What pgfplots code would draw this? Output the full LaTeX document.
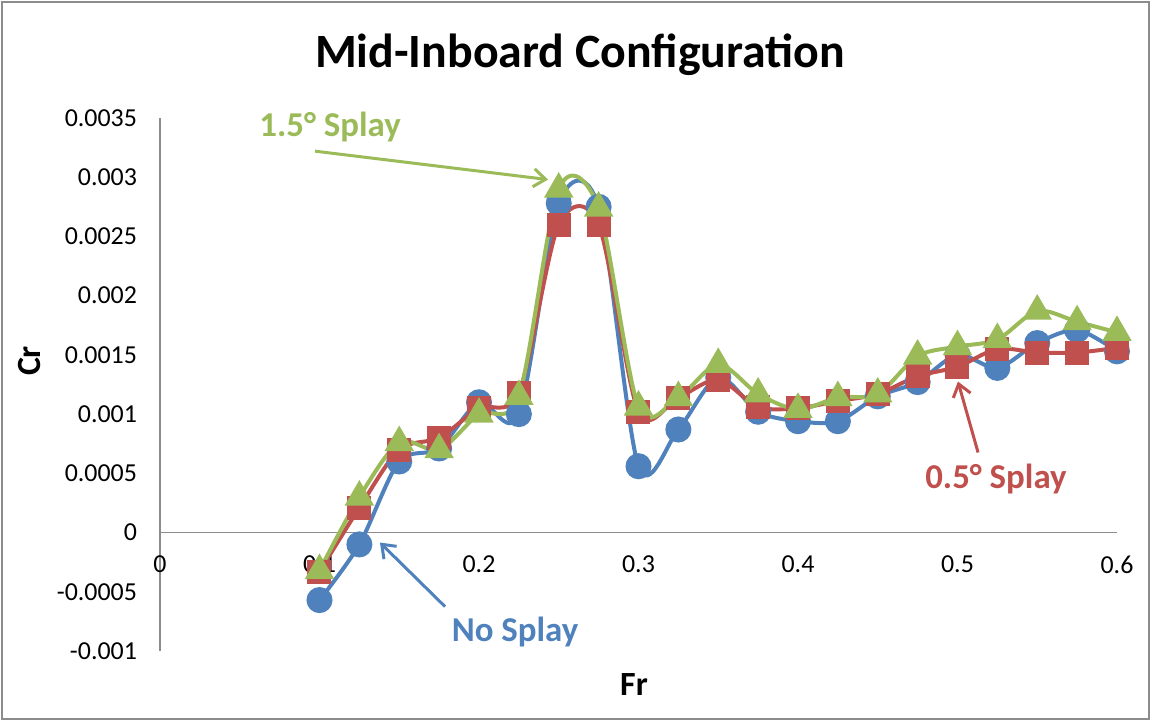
\documentclass[border=0pt]{standalone}
\usepackage{fontspec}
\setmainfont{Carlito}
\usepackage{pgfplots}
\usepackage{pgfplotstable}
\pgfplotsset{compat=1.18}
\usetikzlibrary{arrows.meta}
\definecolor{cblue}{HTML}{4F81BD}
\definecolor{cred}{HTML}{C0504D}
\definecolor{cgreen}{HTML}{9BBB59}
\definecolor{frame}{HTML}{8C8C8C}

\pgfplotstableread{
x blue red green
0.1 -0.00057 -0.00033 -0.00032
0.125 -0.0001 0.00021 0.0003
0.15 0.00060 0.0007 0.00076
0.175 0.00071 0.0008 0.0007
0.2 0.00110 0.00105 0.001
0.225 0.00100 0.00118 0.00115
0.25 0.00278 0.0026 0.0029
0.275 0.00275 0.0026 0.00274
0.3 0.00056 0.00102 0.00106
0.325 0.00087 0.00114 0.00114
0.35 0.00131 0.00129 0.00142
0.375 0.00102 0.00106 0.00117
0.4 0.00094 0.00105 0.00104
0.425 0.00094 0.00111 0.00114
0.45 0.00115 0.00117 0.00117
0.475 0.00127 0.00132 0.00149
0.5 0.0015 0.0014 0.00157
0.525 0.00139 0.00155 0.00163
0.55 0.0016 0.00152 0.00187
0.575 0.00171 0.00152 0.00178
0.6 0.00153 0.00156 0.00169
}\data

\begin{document}
\begin{tikzpicture}
\path[use as bounding box] (0,0) rectangle (575.5bp,360.5bp);
\draw[frame, line width=1.2bp] (1bp,1bp) rectangle (574.5bp,359.5bp);
\node[font=\bfseries\fontsize{24}{28}\selectfont] at (290bp,333bp) {Mid-Inboard Configuration};
\node[font=\bfseries\fontsize{17}{20}\selectfont] at (317bp,18bp) {Fr};
\node[font=\bfseries\fontsize{17}{20}\selectfont, rotate=90] at (15bp,180bp) {Cr};
\begin{axis}[
  at={(80bp,35bp)}, anchor=south west,
  scale only axis, width=478.5bp, height=266.5bp,
  xmin=0, xmax=0.6, ymin=-0.001, ymax=0.0035,
  enlargelimits=false,
  axis x line=middle, axis y line=left,
  axis line style={-, draw=frame, line width=0.6bp},
  hide obscured x ticks=false, hide obscured y ticks=false,
  major tick length=0pt,
  xtick={0,0.1,0.2,0.3,0.4,0.5,0.6},
  ytick={-0.001,-0.0005,0,0.0005,0.001,0.0015,0.002,0.0025,0.003,0.0035},
  scaled x ticks=false, scaled y ticks=false,
  /pgf/number format/assume math mode=true,
  x tick label style={/pgf/number format/.cd, fixed, precision=1, /tikz/.cd, font=\fontsize{13}{15}\selectfont, yshift=-8bp},
  y tick label style={/pgf/number format/.cd, fixed, precision=4, /tikz/.cd, font=\fontsize{13}{15}\selectfont, xshift=-8bp},
  clip=false,
]
\addplot[cblue, line width=2bp, smooth, mark=*, mark size=5.5bp, mark options={solid, fill=cblue, draw=cblue}] table[x=x, y=blue] {\data};
\addplot[cred, line width=2bp, smooth, mark=square*, mark size=5bp, mark options={solid, fill=cred, draw=cred}] table[x=x, y=red] {\data};
\addplot[cgreen, line width=2bp, smooth, mark=triangle*, mark size=6.5bp, mark options={solid, fill=cgreen, draw=cgreen}] table[x=x, y=green] {\data};

\node[cgreen, font=\bfseries\fontsize{17.5}{20}\selectfont] at (axis cs:0.1066,0.00342) {1.5° Splay};
\draw[cgreen, line width=1.5bp, -{Straight Barb[length=6bp, width=9bp]}] (axis cs:0.0972,0.00322) -- (axis cs:0.2433,0.00298);
\node[cblue, font=\bfseries\fontsize{17.5}{20}\selectfont] at (axis cs:0.2226,-0.000836) {No Splay};
\draw[cblue, line width=1.5bp, -{Straight Barb[length=6bp, width=9bp]}] (axis cs:0.1787,-0.000625) -- (axis cs:0.1379,-0.0000845);
\node[cred, font=\bfseries\fontsize{17.5}{20}\selectfont] at (axis cs:0.5241,0.000448) {0.5° Splay};
\draw[cred, line width=1.5bp, -{Straight Barb[length=6bp, width=9bp]}] (axis cs:0.5129,0.000676) -- (axis cs:0.5003,0.001275);
\end{axis}
\end{tikzpicture}
\end{document}
